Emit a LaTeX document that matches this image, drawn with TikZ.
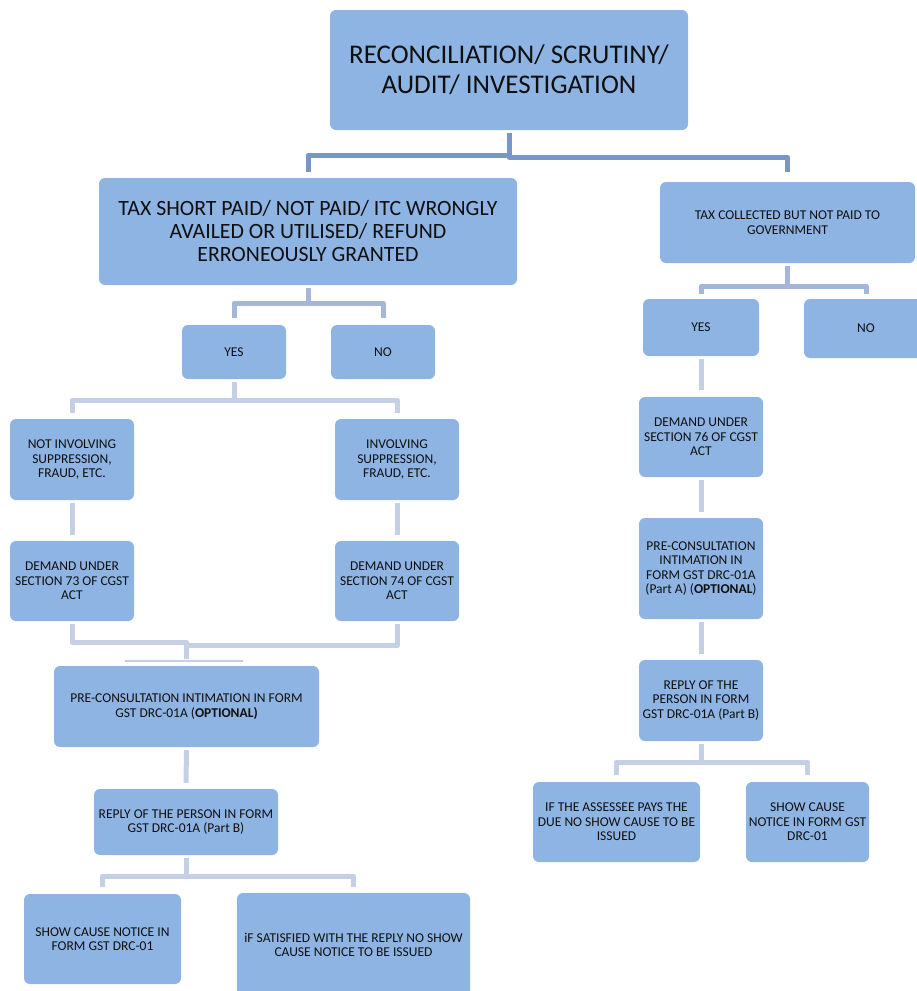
\documentclass[tikz,border=0pt]{standalone}
\usepackage{fontspec}
\setmainfont{Carlito}
\definecolor{boxfill}{RGB}{142,180,227}
\definecolor{linkA}{RGB}{122,150,198}
\definecolor{linkB}{RGB}{165,182,216}
\definecolor{linkC}{RGB}{197,208,230}
\definecolor{ink}{RGB}{15,15,15}
\tikzset{
  box/.style={fill=boxfill, rounded corners=6pt, align=center, text=ink,
              inner sep=1pt, font=\fontsize{13.5}{14.5}\selectfont},
  midtext/.style={font=\fontsize{21.8}{23}\selectfont},
  bigtext/.style={font=\fontsize{27}{30}\selectfont},
  link/.style={line width=5pt, line join=round},
  linkone/.style={link, draw=linkA},
  linktwo/.style={link, draw=linkB},
  linkthree/.style={link, draw=linkC},
}
\begin{document}
\begin{tikzpicture}[x=1pt, y=-1pt]
\useasboundingbox (0,0) rectangle (917,991);

% ---- boxes (centre, width, height) ----
\node[box, bigtext, minimum width=358pt, minimum height=120pt] (top) at (509,70)
  {RECONCILIATION/ SCRUTINY/\\AUDIT/ INVESTIGATION};
\node[box, midtext, minimum width=418pt, minimum height=107pt] (tsp) at (308,231.5)
  {TAX SHORT PAID/ NOT PAID/ ITC WRONGLY\\AVAILED OR UTILISED/ REFUND\\ERRONEOUSLY GRANTED};
\node[box, minimum width=255pt, minimum height=81pt] (tcol) at (787.5,222.5)
  {TAX COLLECTED BUT NOT PAID TO\\GOVERNMENT};

% left branch
\node[box, minimum width=104pt, minimum height=54pt] (yesL) at (234,352) {YES};
\node[box, minimum width=104pt, minimum height=54pt] (noL) at (383,352) {NO};
\node[box, minimum width=124pt, minimum height=81pt] (notinv) at (72,459.5)
  {NOT INVOLVING\\SUPPRESSION,\\FRAUD, ETC.};
\node[box, minimum width=124pt, minimum height=81pt] (inv) at (397,459.5)
  {INVOLVING\\SUPPRESSION,\\FRAUD, ETC.};
\node[box, minimum width=124pt, minimum height=80pt] (dem73) at (72,581)
  {DEMAND UNDER\\SECTION 73 OF CGST\\ACT};
\node[box, minimum width=124pt, minimum height=80pt] (dem74) at (397,581)
  {DEMAND UNDER\\SECTION 74 OF CGST\\ACT};
\node[box, minimum width=265pt, minimum height=81pt] (preL) at (186.5,706.5)
  {PRE-CONSULTATION INTIMATION IN FORM\\GST DRC-01A (\textbf{OPTIONAL)}};
\node[box, minimum width=184pt, minimum height=66pt] (repL) at (186,822)
  {REPLY OF THE PERSON IN FORM\\GST DRC-01A (Part B)};
\node[box, minimum width=157pt, minimum height=90pt] (scnL) at (102.5,939)
  {SHOW CAUSE NOTICE IN\\FORM GST DRC-01};
\node[box, minimum width=233pt, minimum height=104pt] (sat) at (353.5,945)
  {iF SATISFIED WITH THE REPLY NO SHOW\\CAUSE NOTICE TO BE ISSUED};

% right branch
\node[box, minimum width=116pt, minimum height=57pt] (yesR) at (701,327.5) {YES};
\node[box, minimum width=124pt, minimum height=59pt] (noR) at (866,328.5) {NO};
\node[box, minimum width=124pt, minimum height=80pt] (dem76) at (701,437)
  {DEMAND UNDER\\SECTION 76 OF CGST\\ACT};
\node[box, minimum width=124pt, minimum height=101pt] (preR) at (701,568.5)
  {PRE-CONSULTATION\\INTIMATION IN\\FORM GST DRC-01A\\(Part A) (\textbf{OPTIONAL})};
\node[box, minimum width=124pt, minimum height=81pt] (repR) at (701,700.5)
  {REPLY OF THE\\PERSON IN FORM\\GST DRC-01A (Part B)};
\node[box, minimum width=167pt, minimum height=80pt] (pays) at (616.5,822)
  {IF THE ASSESSEE PAYS THE\\DUE NO SHOW CAUSE TO BE\\ISSUED};
\node[box, minimum width=123pt, minimum height=80pt] (scnR) at (807.5,822)
  {SHOW CAUSE\\NOTICE IN FORM GST\\DRC-01};

% ---- connectors ----
\draw[linkone] ([yshift=-3pt]top.south) -- ++(0,-22pt) -| ([yshift=6pt]tsp.north);
\draw[linkone] ([yshift=-3pt]top.south) -- ++(0,-24pt) -| ([yshift=10pt]tcol.north);

\draw[linktwo] ([yshift=-3pt]tsp.south) -- ++(0,-15pt) -| ([yshift=7pt]yesL.north);
\draw[linktwo] ([yshift=-3pt]tsp.south) -- ++(0,-15pt) -| ([yshift=7pt]noL.north);

\draw[linkthree] ([yshift=-3pt]yesL.south) -- ++(0,-18pt) -| ([yshift=6pt]notinv.north);
\draw[linkthree] ([yshift=-3pt]yesL.south) -- ++(0,-18pt) -| ([yshift=6pt]inv.north);

\draw[linkthree] ([yshift=-3pt]notinv.south) -- ([yshift=6pt]dem73.north);
\draw[linkthree] ([yshift=-3pt]inv.south) -- ([yshift=6pt]dem74.north);

\draw[linkthree] ([yshift=-3pt]dem73.south) -- ++(0,-18pt) -| ([yshift=7pt]preL.north);
\draw[linkthree] ([yshift=-3pt]dem74.south) -- ++(0,-21pt) -| ([yshift=7pt]preL.north);
\coordinate (ledgeA) at (125,661);
\coordinate (ledgeB) at (243,661);
\draw[draw=linkC, line width=1.8pt] (ledgeA) -- (ledgeB);

\draw[linkthree] ([yshift=-3pt]preL.south) -- ([yshift=6pt]repL.north);
\draw[linkthree] ([yshift=-3pt]repL.south) -- ++(0,-18pt) -| ([yshift=7pt]scnL.north);
\draw[linkthree] ([yshift=-3pt]repL.south) -- ++(0,-18pt) -| ([yshift=6pt]sat.north);

\draw[linktwo] ([yshift=-3pt]tcol.south) -- ++(0,-20pt) -| ([yshift=5pt]yesR.north);
\draw[linktwo] ([yshift=-3pt]tcol.south) -- ++(0,-20pt) -| ([yshift=5pt]noR.north);

\draw[linkthree] ([yshift=-3pt]yesR.south) -- ([yshift=7pt]dem76.north);
\draw[linkthree] ([yshift=-3pt]dem76.south) -- ([yshift=6pt]preR.north);
\draw[linkthree] ([yshift=-3pt]preR.south) -- ([yshift=6pt]repR.north);
\draw[linkthree] ([yshift=-3pt]repR.south) -- ++(0,-18pt) -| ([yshift=7pt]pays.north);
\draw[linkthree] ([yshift=-3pt]repR.south) -- ++(0,-18pt) -| ([yshift=7pt]scnR.north);
\end{tikzpicture}
\end{document}
